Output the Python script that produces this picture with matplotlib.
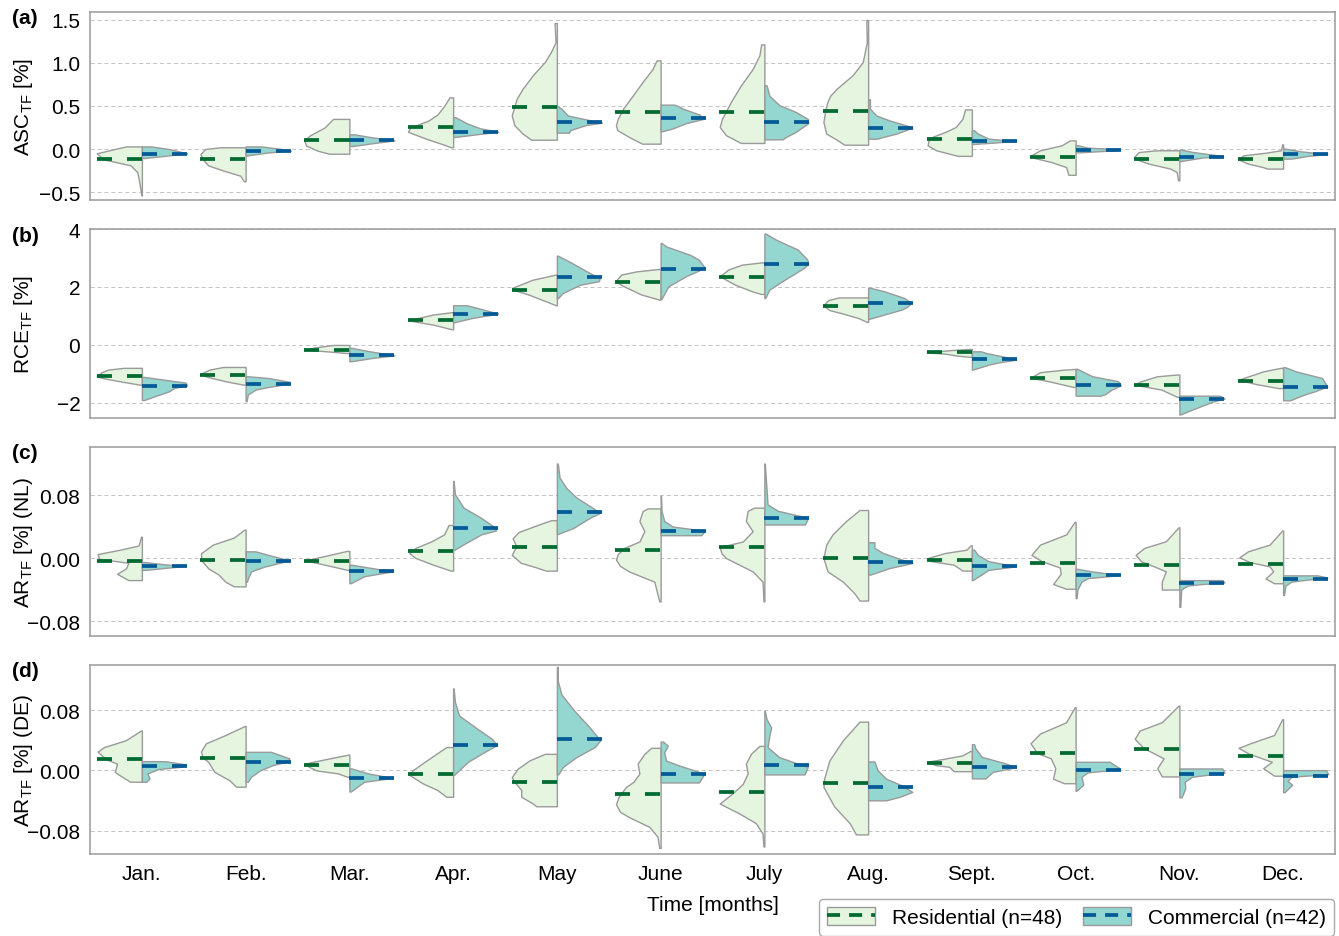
import matplotlib
matplotlib.use("Agg")
import matplotlib.pyplot as plt
from matplotlib.patches import Patch
from matplotlib.lines import Line2D
from matplotlib.legend_handler import HandlerTuple

plt.rcParams["font.family"] = ["Liberation Sans", "DejaVu Sans"]
plt.rcParams["font.size"] = 15
plt.rcParams["lines.scale_dashes"] = False

months = ["Jan.", "Feb.", "Mar.", "Apr.", "May", "June", "July", "Aug.",
          "Sept.", "Oct.", "Nov.", "Dec."]
labels = ["Residential (n=48)", "Commercial (n=42)"]

# violin outlines: (value, relative half-width) per month
# --- (a) ASC_TF ---
asc_res_med = [-0.12, -0.12, 0.105, 0.255, 0.484, 0.426, 0.43, 0.446, 0.112, -0.089, -0.12, -0.12]
asc_com_med = [-0.055, -0.02, 0.10, 0.20, 0.31, 0.364, 0.314, 0.25, 0.09, -0.015, -0.089, -0.06]
asc_res_shape = [
    [(0.03, 0.35), (0.0, 0.6), (-0.05, 1.0), (-0.12, 0.85), (-0.19, 0.25), (-0.27, 0.1), (-0.38, 0.06), (-0.54, 0.01)],
    [(0.02, 0.55), (0.0, 0.9), (-0.06, 1.0), (-0.12, 0.95), (-0.19, 0.83), (-0.25, 0.5), (-0.31, 0.12), (-0.375, 0.04)],
    [(0.35, 0.36), (0.25, 0.55), (0.16, 0.87), (0.1, 1.0), (0.04, 0.96), (-0.02, 0.7), (-0.055, 0.45)],
    [(0.60, 0.08), (0.5, 0.2), (0.4, 0.35), (0.33, 0.55), (0.25, 0.95), (0.2, 1.0), (0.12, 0.6), (0.05, 0.2), (0.02, 0.05)],
    [(1.465, 0.05), (1.24, 0.03), (1.13, 0.13), (1.01, 0.27), (0.86, 0.53), (0.7, 0.76), (0.585, 0.89), (0.39, 1.0), (0.275, 0.94), (0.18, 0.76), (0.108, 0.57)],
    [(1.03, 0.09), (0.93, 0.18), (0.78, 0.4), (0.62, 0.62), (0.47, 0.83), (0.35, 0.95), (0.275, 0.99), (0.22, 0.96), (0.14, 0.7), (0.062, 0.41)],
    [(1.217, 0.07), (1.09, 0.11), (0.93, 0.26), (0.74, 0.52), (0.55, 0.74), (0.43, 0.86), (0.35, 0.94), (0.256, 0.99), (0.16, 0.85), (0.07, 0.52)],
    [(1.5, 0.04), (1.24, 0.03), (1.01, 0.12), (0.86, 0.34), (0.7, 0.7), (0.62, 0.84), (0.55, 0.9), (0.45, 0.95), (0.314, 0.99), (0.18, 0.93), (0.1, 0.67), (0.05, 0.53)],
    [(0.46, 0.15), (0.35, 0.21), (0.255, 0.36), (0.197, 0.6), (0.14, 0.88), (0.1, 0.96), (0.043, 0.98), (-0.015, 0.79), (-0.08, 0.31)],
    [(0.1, 0.13), (0.043, 0.31), (-0.015, 0.79), (-0.073, 0.98), (-0.1, 0.95), (-0.15, 0.55), (-0.21, 0.21), (-0.3, 0.16)],
    [(-0.015, 0.5), (-0.035, 0.9), (-0.09, 1.0), (-0.12, 0.95), (-0.17, 0.68), (-0.228, 0.2), (-0.267, 0.06), (-0.364, 0.03)],
    [(0.054, 0.02), (-0.015, 0.05), (-0.043, 0.39), (-0.073, 0.88), (-0.12, 0.99), (-0.17, 0.78), (-0.21, 0.45), (-0.228, 0.35)],
]
asc_com_shape = [
    [(0.03, 0.2), (0.0, 0.6), (-0.05, 1.0), (-0.08, 0.5), (-0.105, 0.05)],
    [(0.03, 0.35), (0.0, 0.8), (-0.02, 1.0), (-0.04, 0.5), (-0.075, 0.03)],
    [(0.17, 0.12), (0.14, 0.45), (0.1, 1.0), (0.07, 0.55), (0.035, 0.08)],
    [(0.37, 0.05), (0.3, 0.3), (0.24, 0.6), (0.2, 1.0), (0.17, 0.5), (0.14, 0.05)],
    [(0.496, 0.02), (0.47, 0.1), (0.39, 0.24), (0.36, 0.5), (0.306, 1.0), (0.28, 0.65), (0.22, 0.3), (0.19, 0.27)],
    [(0.516, 0.3), (0.5, 0.38), (0.47, 0.49), (0.4, 0.86), (0.353, 0.97), (0.3, 0.56), (0.236, 0.25), (0.205, 0.02)],
    [(0.74, 0.05), (0.62, 0.11), (0.51, 0.33), (0.43, 0.7), (0.35, 0.96), (0.3, 0.97), (0.2, 0.7), (0.14, 0.48), (0.112, 0.4)],
    [(0.578, 0.04), (0.47, 0.04), (0.39, 0.18), (0.333, 0.47), (0.275, 0.84), (0.248, 0.98), (0.178, 0.62), (0.14, 0.33), (0.12, 0.2)],
    [(0.217, 0.05), (0.18, 0.13), (0.12, 0.37), (0.093, 0.96), (0.075, 0.5), (0.058, 0.02)],
    [(0.043, 0.05), (0.015, 0.27), (0.0, 0.95), (-0.015, 0.9), (-0.04, 0.03)],
    [(-0.008, 0.05), (-0.035, 0.3), (-0.08, 0.95), (-0.1, 0.5), (-0.14, 0.03)],
    [(0.004, 0.05), (-0.027, 0.39), (-0.06, 0.98), (-0.08, 0.55), (-0.112, 0.18)],
]

# --- (b) RCE_TF ---
rce_res_med = [-1.08, -1.03, -0.17, 0.85, 1.9, 2.17, 2.33, 1.33, -0.26, -1.13, -1.37, -1.23]
rce_com_med = [-1.4, -1.33, -0.36, 1.08, 2.34, 2.63, 2.8, 1.45, -0.5, -1.39, -1.86, -1.45]
rce_res_shape = [
    [(-0.79, 0.4), (-0.85, 0.75), (-0.95, 0.9), (-1.08, 1.0), (-1.15, 0.85), (-1.25, 0.5), (-1.37, 0.05)],
    [(-0.76, 0.5), (-0.85, 0.8), (-1.0, 1.0), (-1.1, 0.85), (-1.25, 0.45), (-1.37, 0.05)],
    [(0.0, 0.35), (-0.08, 0.75), (-0.16, 1.0), (-0.22, 0.5), (-0.28, 0.05)],
    [(1.13, 0.03), (1.05, 0.44), (0.85, 1.0), (0.7, 0.44), (0.54, 0.03)],
    [(2.43, 0.02), (2.25, 0.54), (1.97, 0.99), (1.9, 0.95), (1.74, 0.63), (1.54, 0.3), (1.37, 0.02)],
    [(2.62, 0.05), (2.54, 0.53), (2.43, 0.87), (2.2, 1.0), (2.05, 0.85), (1.74, 0.43), (1.56, 0.02)],
    [(2.85, 0.05), (2.77, 0.5), (2.6, 0.8), (2.37, 0.99), (2.08, 0.65), (1.85, 0.27), (1.76, 0.08)],
    [(1.64, 0.65), (1.55, 0.88), (1.36, 1.0), (1.2, 0.85), (1.1, 0.6), (0.93, 0.22), (0.79, 0.02)],
    [(-0.14, 0.05), (-0.16, 0.31), (-0.22, 0.8), (-0.26, 1.0), (-0.3, 0.6), (-0.37, 0.31), (-0.41, 0.05)],
    [(-0.83, 0.05), (-0.86, 0.31), (-0.94, 0.79), (-1.13, 1.0), (-1.25, 0.6), (-1.45, 0.05)],
    [(-1.02, 0.05), (-1.08, 0.49), (-1.25, 0.85), (-1.37, 1.0), (-1.54, 0.4), (-1.79, 0.05)],
    [(-0.79, 0.05), (-0.91, 0.44), (-1.2, 0.99), (-1.35, 0.6), (-1.49, 0.1)],
]
rce_com_shape = [
    [(-1.1, 0.03), (-1.2, 0.5), (-1.3, 0.97), (-1.4, 1.0), (-1.48, 0.72), (-1.6, 0.6), (-1.75, 0.32), (-1.9, 0.05)],
    [(-1.08, 0.05), (-1.14, 0.5), (-1.27, 0.97), (-1.35, 0.9), (-1.45, 0.5), (-1.54, 0.22), (-1.71, 0.05), (-1.94, 0.02)],
    [(-0.1, 0.05), (-0.2, 0.38), (-0.36, 1.0), (-0.45, 0.5), (-0.56, 0.05)],
    [(1.37, 0.3), (1.25, 0.6), (1.08, 1.0), (0.93, 0.42), (0.78, 0.02)],
    [(3.08, 0.02), (2.83, 0.33), (2.54, 0.66), (2.3, 0.95), (2.2, 0.93), (2.08, 0.52), (1.79, 0.13), (1.61, 0.02)],
    [(3.52, 0.02), (3.4, 0.12), (3.11, 0.65), (2.94, 0.85), (2.66, 0.98), (2.37, 0.56), (2.02, 0.17), (1.59, 0.02)],
    [(3.84, 0.03), (3.63, 0.26), (3.29, 0.74), (2.95, 0.95), (2.8, 0.97), (2.66, 0.88), (2.25, 0.45), (1.91, 0.11), (1.62, 0.02)],
    [(1.97, 0.05), (1.85, 0.36), (1.62, 0.8), (1.45, 0.96), (1.3, 0.85), (1.22, 0.74), (1.05, 0.36), (0.9, 0.02)],
    [(-0.22, 0.2), (-0.28, 0.32), (-0.4, 0.7), (-0.51, 0.98), (-0.6, 0.6), (-0.68, 0.37), (-0.85, 0.02)],
    [(-0.82, 0.03), (-1.08, 0.37), (-1.25, 0.94), (-1.39, 1.0), (-1.54, 0.8), (-1.7, 0.65), (-1.75, 0.55)],
    [(-1.75, 0.9), (-1.85, 1.0), (-1.95, 0.75), (-2.1, 0.5), (-2.25, 0.25), (-2.4, 0.02)],
    [(-0.77, 0.05), (-0.91, 0.28), (-1.14, 0.86), (-1.43, 0.98), (-1.6, 0.7), (-1.71, 0.47), (-1.91, 0.15)],
]

# --- (c) AR_TF (NL) ---
ar_nl_res_med = [-0.0035, -0.0026, -0.004, 0.009, 0.0145, 0.0098, 0.014, 0.0, -0.003, -0.0068, -0.0094, -0.0072]
ar_nl_com_med = [-0.01, -0.004, -0.017, 0.038, 0.058, 0.034, 0.0506, -0.0055, -0.0106, -0.0217, -0.0315, -0.026]
ar_nl_res_shape = [
    [(0.027, 0.02), (0.016, 0.07), (0.011, 0.45), (0.005, 0.98), (-0.001, 0.95), (-0.006, 0.3), (-0.013, 0.35), (-0.02, 0.55), (-0.028, 0.3)],
    [(0.036, 0.03), (0.026, 0.26), (0.017, 0.73), (0.006, 0.99), (-0.003, 0.98), (-0.013, 0.83), (-0.021, 0.6), (-0.03, 0.45), (-0.036, 0.26)],
    [(0.009, 0.06), (0.004, 0.44), (-0.003, 0.97), (-0.011, 0.35), (-0.015, 0.05)],
    [(0.042, 0.1), (0.03, 0.2), (0.021, 0.49), (0.013, 0.83), (0.006, 0.97), (0.0, 0.83), (-0.0085, 0.44), (-0.016, 0.05)],
    [(0.048, 0.13), (0.043, 0.38), (0.033, 0.85), (0.025, 0.98), (0.015, 0.9), (0.004, 1.0), (-0.006, 0.8), (-0.012, 0.45), (-0.016, 0.24)],
    [(0.063, 0.29), (0.0596, 0.4), (0.047, 0.47), (0.034, 0.36), (0.021, 0.47), (0.0128, 0.81), (0.005, 0.95), (-0.002, 0.99), (-0.01, 0.9), (-0.017, 0.7), (-0.03, 0.14), (-0.055, 0.03)],
    [(0.064, 0.22), (0.06, 0.37), (0.047, 0.41), (0.034, 0.26), (0.021, 0.48), (0.014, 0.99), (0.006, 0.95), (0.0, 0.85), (-0.017, 0.26), (-0.03, 0.04), (-0.055, 0.02)],
    [(0.061, 0.19), (0.047, 0.49), (0.03, 0.79), (0.017, 0.93), (0.0, 0.99), (-0.017, 0.9), (-0.03, 0.56), (-0.045, 0.3), (-0.054, 0.19)],
    [(0.016, 0.03), (0.0106, 0.12), (0.0064, 0.6), (0.0, 0.98), (-0.004, 0.9), (-0.0085, 0.4), (-0.016, 0.21)],
    [(0.046, 0.02), (0.03, 0.21), (0.017, 0.79), (0.004, 0.98), (-0.004, 0.75), (-0.012, 0.35), (-0.02, 0.33), (-0.033, 0.5), (-0.039, 0.21)],
    [(0.039, 0.02), (0.0213, 0.3), (0.0128, 0.78), (0.004, 0.97), (-0.004, 0.85), (-0.012, 0.5), (-0.017, 0.3), (-0.03, 0.39), (-0.04, 0.39)],
    [(0.035, 0.02), (0.017, 0.3), (0.0085, 0.78), (0.001, 0.97), (-0.005, 0.75), (-0.0106, 0.3), (-0.017, 0.22), (-0.026, 0.39), (-0.032, 0.2)],
]
ar_nl_com_shape = [
    [(-0.005, 0.05), (-0.008, 0.5), (-0.01, 0.98), (-0.012, 0.6), (-0.015, 0.1)],
    [(0.0085, 0.22), (0.004, 0.5), (-0.003, 0.97), (-0.011, 0.41), (-0.017, 0.12), (-0.026, 0.05), (-0.03, 0.03)],
    [(-0.0085, 0.05), (-0.012, 0.42), (-0.017, 0.96), (-0.023, 0.33), (-0.032, 0.03)],
    [(0.098, 0.01), (0.081, 0.04), (0.064, 0.23), (0.051, 0.62), (0.04, 0.9), (0.035, 0.95), (0.03, 0.62), (0.019, 0.28), (0.0106, 0.03)],
    [(0.12, 0.02), (0.102, 0.06), (0.089, 0.21), (0.077, 0.43), (0.066, 0.73), (0.0574, 0.96), (0.051, 0.73), (0.038, 0.36), (0.0306, 0.02)],
    [(0.079, 0.01), (0.06, 0.02), (0.047, 0.08), (0.04, 0.27), (0.036, 0.8), (0.034, 0.97), (0.029, 0.9)],
    [(0.12, 0.01), (0.068, 0.07), (0.06, 0.3), (0.052, 0.9), (0.05, 0.96), (0.0426, 0.9)],
    [(0.02, 0.14), (0.0128, 0.14), (0.0064, 0.33), (-0.002, 0.75), (-0.0064, 0.98), (-0.0128, 0.47), (-0.021, 0.05)],
    [(0.0106, 0.05), (0.004, 0.13), (-0.004, 0.37), (-0.0106, 0.97), (-0.015, 0.37), (-0.028, 0.02)],
    [(-0.0136, 0.03), (-0.017, 0.37), (-0.0217, 0.97), (-0.0255, 0.27), (-0.03, 0.13), (-0.04, 0.04), (-0.051, 0.02)],
    [(-0.028, 0.95), (-0.031, 1.0), (-0.033, 0.5), (-0.035, 0.18), (-0.04, 0.04), (-0.062, 0.02)],
    [(-0.022, 0.76), (-0.0247, 0.98), (-0.027, 0.6), (-0.03, 0.18), (-0.035, 0.05), (-0.047, 0.02)],
]

# --- (d) AR_TF (DE) ---
ar_de_res_med = [0.015, 0.0167, 0.0066, -0.0048, -0.0159, -0.0313, -0.0286, -0.0167, 0.0097, 0.0234, 0.028, 0.0194]
ar_de_com_med = [0.0053, 0.0115, -0.01, 0.0335, 0.042, -0.0048, 0.0075, -0.0225, 0.0044, 0.0004, -0.0053, -0.007]
ar_de_res_shape = [
    [(0.053, 0.02), (0.04, 0.36), (0.031, 0.84), (0.025, 0.98), (0.015, 0.8), (0.009, 0.55), (-0.002, 0.6), (-0.008, 0.45), (-0.015, 0.26)],
    [(0.059, 0.02), (0.047, 0.45), (0.036, 0.88), (0.025, 0.99), (0.017, 0.95), (0.0115, 0.83), (-0.002, 0.69), (-0.013, 0.36), (-0.0216, 0.21)],
    [(0.021, 0.02), (0.016, 0.44), (0.0093, 0.97), (0.005, 0.9), (0.0, 0.73), (-0.004, 0.25), (-0.0084, 0.05)],
    [(0.031, 0.15), (0.025, 0.3), (0.0115, 0.63), (0.0, 0.9), (-0.006, 0.97), (-0.017, 0.68), (-0.026, 0.35), (-0.035, 0.15)],
    [(0.022, 0.27), (0.0132, 0.61), (0.0022, 0.87), (-0.009, 1.0), (-0.016, 0.93), (-0.026, 0.79), (-0.035, 0.79), (-0.044, 0.53), (-0.0476, 0.46)],
    [(0.03, 0.21), (0.022, 0.36), (0.009, 0.51), (-0.004, 0.47), (-0.015, 0.6), (-0.022, 0.77), (-0.035, 0.93), (-0.045, 0.99), (-0.055, 0.9), (-0.062, 0.7), (-0.075, 0.25), (-0.088, 0.07), (-0.103, 0.03)],
    [(0.0326, 0.11), (0.022, 0.3), (0.009, 0.41), (-0.004, 0.37), (-0.018, 0.48), (-0.03, 0.7), (-0.044, 0.99), (-0.057, 0.56), (-0.07, 0.19), (-0.084, 0.04), (-0.101, 0.02)],
    [(0.0648, 0.19), (0.04, 0.56), (0.013, 0.86), (-0.01, 0.97), (-0.022, 0.99), (-0.048, 0.75), (-0.07, 0.41), (-0.085, 0.27)],
    [(0.026, 0.03), (0.02, 0.21), (0.0115, 0.98), (0.007, 0.8), (0.0048, 0.5), (-0.001, 0.4)],
    [(0.084, 0.02), (0.064, 0.21), (0.049, 0.79), (0.036, 1.0), (0.023, 0.85), (0.016, 0.55), (0.003, 0.45), (-0.011, 0.5), (-0.017, 0.26)],
    [(0.086, 0.02), (0.064, 0.39), (0.053, 0.88), (0.042, 0.99), (0.03, 0.8), (0.016, 0.35), (0.003, 0.49), (-0.008, 0.39)],
    [(0.068, 0.02), (0.047, 0.2), (0.036, 0.73), (0.03, 0.99), (0.022, 0.75), (0.0115, 0.25), (0.003, 0.44), (-0.007, 0.2)],
]
ar_de_com_shape = [
    [(0.0123, 0.51), (0.008, 0.98), (0.005, 0.9), (0.0018, 0.37), (-0.004, 0.12), (-0.0106, 0.17), (-0.015, 0.1)],
    [(0.0247, 0.56), (0.016, 0.97), (0.0115, 0.9), (0.007, 0.6), (0.0, 0.32), (-0.0084, 0.12), (-0.015, 0.05)],
    [(0.0026, 0.05), (-0.004, 0.42), (-0.01, 0.96), (-0.015, 0.33), (-0.028, 0.03)],
    [(0.109, 0.01), (0.091, 0.04), (0.073, 0.13), (0.056, 0.52), (0.042, 0.86), (0.0335, 0.97), (0.025, 0.71), (0.0115, 0.33), (-0.006, 0.02)],
    [(0.1375, 0.02), (0.119, 0.02), (0.101, 0.1), (0.079, 0.39), (0.057, 0.73), (0.04, 0.96), (0.031, 0.84), (0.0176, 0.43), (0.0044, 0.13), (-0.0053, 0.03)],
    [(0.0383, 0.05), (0.033, 0.16), (0.024, 0.08), (0.013, 0.12), (0.0066, 0.41), (-0.0044, 0.97), (-0.016, 0.85)],
    [(0.079, 0.01), (0.068, 0.05), (0.057, 0.15), (0.046, 0.11), (0.031, 0.07), (0.0176, 0.33), (0.0044, 0.96), (-0.0053, 0.89)],
    [(0.0119, 0.14), (0.0, 0.21), (-0.011, 0.4), (-0.02, 0.75), (-0.0286, 0.98), (-0.035, 0.7), (-0.0397, 0.4)],
    [(0.0348, 0.05), (0.029, 0.08), (0.018, 0.22), (0.0093, 0.75), (0.004, 0.96), (-0.002, 0.46), (-0.0106, 0.3)],
    [(0.0115, 0.75), (0.0035, 0.96), (0.0, 0.7), (-0.0026, 0.27), (-0.0084, 0.13), (-0.019, 0.17), (-0.027, 0.02)],
    [(0.0026, 0.95), (-0.003, 1.0), (-0.0084, 0.28), (-0.015, 0.12), (-0.024, 0.13), (-0.0357, 0.05)],
    [(0.0004, 0.95), (-0.005, 1.0), (-0.0084, 0.18), (-0.014, 0.1), (-0.019, 0.2), (-0.029, 0.03)],
]

RES_FILL = "#e5f5e0"
COM_FILL = "#94d6d0"
EDGE = "#9a9a9a"
RES_LINE = "#006a31"
COM_LINE = "#045a96"
HALF = 0.435
DASH = (10.8, 10.8)

W, H = 1339, 937
fig = plt.figure(figsize=(W / 100, H / 100), dpi=100)

# (shapes, medians, ylabel, ylim, yticks, tag, top px, bottom px)
panels = [
    (asc_res_shape, asc_com_shape, asc_res_med, asc_com_med,
     "ASC$_{\\mathregular{TF}}$ [%]", (-0.593, 1.593), [-0.5, 0.0, 0.5, 1.0, 1.5], "(a)", 13, 201),
    (rce_res_shape, rce_com_shape, rce_res_med, rce_com_med,
     "RCE$_{\\mathregular{TF}}$ [%]", (-2.52, 4.0), [-2, 0, 2, 4], "(b)", 230, 419),
    (ar_nl_res_shape, ar_nl_com_shape, ar_nl_res_med, ar_nl_com_med,
     "AR$_{\\mathregular{TF}}$ [%] (NL)", (-0.099, 0.141), [-0.08, 0.0, 0.08], "(c)", 448, 637),
    (ar_de_res_shape, ar_de_com_shape, ar_de_res_med, ar_de_com_med,
     "AR$_{\\mathregular{TF}}$ [%] (DE)", (-0.111, 0.140), [-0.08, 0.0, 0.08], "(d)", 666, 855),
]

for k, (res_sh, com_sh, res_med, com_med, ylab, ylim, yticks, tag, top, bot) in enumerate(panels):
    ax = fig.add_axes([90 / W, 1 - bot / H, (1335 - 90) / W, (bot - top) / H])
    for i in range(len(months)):
        for shape, side, fill in ((res_sh[i], -1, RES_FILL), (com_sh[i], 1, COM_FILL)):
            ys = [p[0] for p in shape]
            xs = [i + side * p[1] * HALF for p in shape]
            ax.fill_betweenx(ys, i, xs, facecolor=fill, edgecolor=EDGE,
                             linewidth=1.0, zorder=2)
        ax.plot([i - HALF, i], [res_med[i], res_med[i]], color=RES_LINE,
                lw=2.7, dashes=DASH, zorder=3)
        ax.plot([i, i + HALF], [com_med[i], com_med[i]], color=COM_LINE,
                lw=2.7, dashes=DASH, zorder=3)

    ax.set_xlim(-0.5, 11.5)
    ax.set_ylim(*ylim)
    ax.set_yticks(yticks)
    ax.set_xticks(range(len(months)))
    ax.yaxis.grid(True, linestyle=(0, (3, 2)), color="#c4c4c4", lw=0.7)
    ax.set_axisbelow(True)
    for s in ax.spines.values():
        s.set_color("#9a9a9a")
        s.set_linewidth(1.1)
    ax.tick_params(axis="y", length=0, pad=7)
    ax.tick_params(axis="x", length=0, pad=7.5)
    ax.set_ylabel(ylab)
    ax.yaxis.set_label_coords(-0.044, 0.5)
    if k == len(panels) - 1:
        ax.set_xticklabels(months)
        ax.set_xlabel("Time [months]", labelpad=8.5)
    else:
        ax.tick_params(axis="x", labelbottom=False)
    fig.text(12 / W, 1 - (top + 6) / H, tag, fontweight="bold",
             ha="left", va="center")

res_handle = (Patch(facecolor=RES_FILL, edgecolor=EDGE),
              Line2D([], [], color=RES_LINE, lw=2.7, dashes=(9.4, 6.5)))
com_handle = (Patch(facecolor=COM_FILL, edgecolor=EDGE),
              Line2D([], [], color=COM_LINE, lw=2.7, dashes=(9.4, 6.5)))
fig.legend([res_handle, com_handle], labels,
           handler_map={tuple: HandlerTuple(ndivide=1)},
           loc="upper right", bbox_to_anchor=(1334 / W, 1 - 900 / H),
           borderaxespad=0, ncol=2, handlelength=2.3, handleheight=0.9,
           handletextpad=0.8, columnspacing=1.0, borderpad=0.4,
           frameon=True, fancybox=True, edgecolor="#aaaaaa", framealpha=1)

fig.savefig("out.png", dpi=100)
